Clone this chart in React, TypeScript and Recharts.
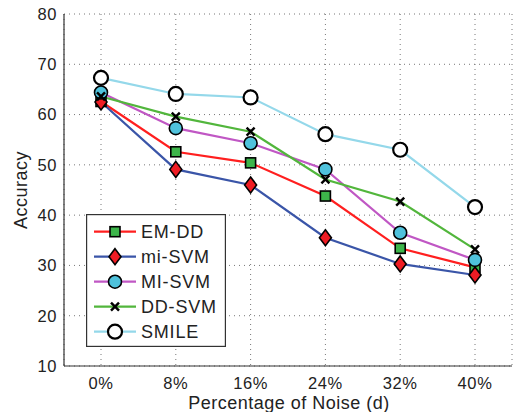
import React from 'react';
import {
  LineChart, Line, XAxis, YAxis, CartesianGrid, Legend, Label,
} from 'recharts';

const noise = ['0%', '8%', '16%', '24%', '32%', '40%'];
const emdd = [62.6, 52.6, 50.4, 43.8, 33.4, 29.6];
const miSvm = [62.5, 49.1, 46.0, 35.5, 30.3, 28.1];
const MISvm = [64.4, 57.3, 54.3, 49.1, 36.5, 31.1];
const ddSvm = [63.6, 59.6, 56.6, 47.1, 42.7, 33.2];
const smile = [67.3, 64.1, 63.4, 56.1, 53.0, 41.6];
const yTicks = [10, 20, 30, 40, 50, 60, 70, 80];

const chartData = noise.map((n, i) => ({
  noise: n,
  emdd: emdd[i],
  miSvm: miSvm[i],
  MISvm: MISvm[i],
  ddSvm: ddSvm[i],
  smile: smile[i],
}));

const FONT = '"Liberation Sans", Arial, sans-serif';

type Shape = 'square' | 'diamond' | 'circle' | 'cross' | 'open';

function marker(shape: Shape, cx: number, cy: number, key?: string) {
  switch (shape) {
    case 'square':
      return <rect key={key} x={cx - 5} y={cy - 5} width={10} height={10} fill="#3db54a" stroke="#000" strokeWidth={1.6} />;
    case 'diamond':
      return <path key={key} d={`M${cx},${cy - 8} L${cx + 6},${cy} L${cx},${cy + 8} L${cx - 6},${cy} Z`} fill="#ee1c24" stroke="#000" strokeWidth={1.6} />;
    case 'circle':
      return <circle key={key} cx={cx} cy={cy} r={6.5} fill="#4fc2dc" stroke="#000" strokeWidth={1.6} />;
    case 'cross':
      return (
        <g key={key} stroke="#000" strokeWidth={2.4}>
          <line x1={cx - 4} y1={cy - 4} x2={cx + 4} y2={cy + 4} />
          <line x1={cx - 4} y1={cy + 4} x2={cx + 4} y2={cy - 4} />
        </g>
      );
    default:
      return <circle key={key} cx={cx} cy={cy} r={7} fill="#fff" stroke="#000" strokeWidth={2.2} />;
  }
}

const series: { key: string; name: string; color: string; shape: Shape }[] = [
  { key: 'emdd', name: 'EM-DD', color: '#ff1f1f', shape: 'square' },
  { key: 'miSvm', name: 'mi-SVM', color: '#3a55a8', shape: 'diamond' },
  { key: 'MISvm', name: 'MI-SVM', color: '#c057c4', shape: 'circle' },
  { key: 'ddSvm', name: 'DD-SVM', color: '#52b63c', shape: 'cross' },
  { key: 'smile', name: 'SMILE', color: '#94d8ea', shape: 'open' },
];

function LegendBox() {
  return (
    <svg width={140} height={133} style={{ display: 'block' }}>
      <rect x={0.6} y={0.6} width={138.8} height={131.8} fill="#fff" stroke="#333" strokeWidth={1.2} />
      {series.map((s, i) => {
        const y = 17.7 + i * 25;
        return (
          <g key={s.key}>
            <line x1={8} y1={y} x2={50} y2={y} stroke={s.color} strokeWidth={2.2} />
            {marker(s.shape, 29, y)}
            <text x={55} y={y + 6.5} fontSize={18} letterSpacing={0.8} fontFamily={FONT} fill="#222">{s.name}</text>
          </g>
        );
      })}
    </svg>
  );
}

export default function App() {
  return (
    <div style={{ position: 'absolute', left: 0, top: 0, width: 515, height: 412, background: '#fff' }}>
      <LineChart width={515} height={412} data={chartData} margin={{ top: 14, right: 3, bottom: 0, left: 0 }}>
        <CartesianGrid stroke="#777" strokeDasharray="1 4" />
        <XAxis
          dataKey="noise"
          padding={{ left: 37, right: 37 }}
          height={46}
          tick={{ fontSize: 16.5, fill: '#222', fontFamily: FONT, letterSpacing: 0.6 }}
          tickLine={false}
          tickMargin={5}
          axisLine={{ stroke: '#333', strokeWidth: 1.2 }}
        >
          <Label
            content={() => (
              <text x={289} y={409} textAnchor="middle" fontSize={18} letterSpacing={0.5} fontFamily={FONT} fill="#222">
                Percentage of Noise (d)
              </text>
            )}
          />
        </XAxis>
        <XAxis xAxisId="top" dataKey="noise" orientation="top" height={0} tick={false} tickLine={false} axisLine={{ stroke: '#333', strokeWidth: 1.2 }} />
        <YAxis
          domain={[10, 80]}
          ticks={yTicks}
          width={64}
          tick={{ fontSize: 16.5, fill: '#222', fontFamily: FONT, letterSpacing: 0.6 }}
          tickLine={false}
          tickMargin={1}
          axisLine={{ stroke: '#333', strokeWidth: 1.2 }}
        >
          <Label
            content={() => (
              <text x={27} y={190} transform="rotate(-90 27 190)" textAnchor="middle" fontSize={18} letterSpacing={0.5} fontFamily={FONT} fill="#222">
                Accuracy
              </text>
            )}
          />
        </YAxis>
        <YAxis yAxisId="right" orientation="right" domain={[10, 80]} width={0} tick={false} tickLine={false} axisLine={{ stroke: '#333', strokeWidth: 1.2 }} />
        <Legend
          layout="vertical"
          align="center"
          verticalAlign="middle"
          wrapperStyle={{ position: 'absolute', left: 86, top: 214, width: 140, height: 133 }}
          content={() => <LegendBox />}
        />
        {series.map((s) => (
          <Line
            key={s.key}
            dataKey={s.key}
            name={s.name}
            stroke={s.color}
            strokeWidth={2.2}
            isAnimationActive={false}
            dot={(p: any) => marker(s.shape, p.cx, p.cy, `${s.key}-${p.index}`)}
            activeDot={false}
          />
        ))}
      </LineChart>
    </div>
  );
}
